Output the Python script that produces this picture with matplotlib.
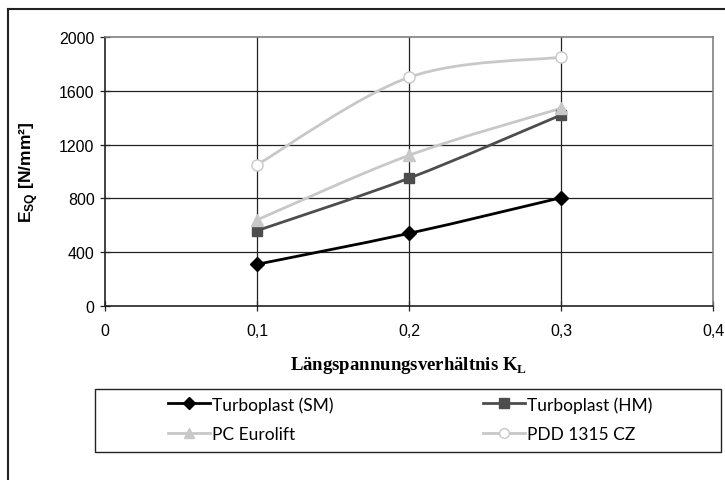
import numpy as np
import matplotlib
matplotlib.use("Agg")
import matplotlib.pyplot as plt
from matplotlib.path import Path
from matplotlib.patches import PathPatch, Rectangle
from matplotlib.lines import Line2D

plt.rcParams["font.family"] = ["Liberation Sans", "DejaVu Sans"]

# data
kl = [0.1, 0.2, 0.3]
sm = [310, 540, 805]
hm = [560, 950, 1420]
pc = [640, 1120, 1470]
pdd = [1050, 1700, 1850]

series = [
    ("Turboplast (SM)", sm, "#000000", "D", "#000000", 7),
    ("Turboplast (HM)", hm, "#4d4d4d", "s", "#4d4d4d", 7.5),
    ("PC Eurolift", pc, "#c8c8c8", "^", "#c8c8c8", 8.5),
    ("PDD 1315 CZ", pdd, "#c8c8c8", "o", "white", 8),
]

y_ticks = [0, 400, 800, 1200, 1600, 2000]
x_ticks = [0, 0.1, 0.2, 0.3, 0.4]
x_labels = ["0", "0,1", "0,2", "0,3", "0,4"]

W, H = 725, 481


# excel-style smoothed line as cubic bezier path
def smooth_path(x, y):
    p = np.column_stack([x, y]).astype(float)
    n = len(p)
    verts = [p[0]]
    codes = [Path.MOVETO]
    for i in range(n - 1):
        p0 = p[i - 1] if i > 0 else p[i]
        p3 = p[i + 2] if i + 2 < n else p[i + 1]
        c1 = p[i] + (p[i + 1] - p0) / 6.0
        c2 = p[i + 1] - (p3 - p[i]) / 6.0
        verts += [c1, c2, p[i + 1]]
        codes += [Path.CURVE4] * 3
    return Path(verts, codes)


fig = plt.figure(figsize=(W / 100, H / 100), dpi=100)
ax = fig.add_axes([105 / W, 1 - 307 / H, (713 - 105) / W, (307 - 38) / H])

ax.set_xlim(0, 0.4)
ax.set_ylim(0, 2000)

handles = []
for name, vals, col, mk, face, ms in series:
    patch = PathPatch(smooth_path(kl, vals), facecolor="none", edgecolor=col,
                      lw=2.0, zorder=3, capstyle="round")
    ax.add_patch(patch)
    ax.plot(kl, vals, linestyle="none", marker=mk, markersize=ms,
            markerfacecolor=face, markeredgecolor=col, markeredgewidth=1.0,
            zorder=4, clip_on=False)
    handles.append(Line2D([], [], color=col, lw=2.0, marker=mk, markersize=ms - 1,
                          markerfacecolor=face, markeredgecolor=col))

# grid
for v in y_ticks[1:-1]:
    ax.axhline(v, color="#222222", lw=0.9, zorder=1)
for v in x_ticks[1:-1]:
    ax.axvline(v, color="#222222", lw=0.9, zorder=1)

ax.spines["left"].set_color("#222222")
ax.spines["bottom"].set_color("#222222")
ax.spines["top"].set_color("#808080")
ax.spines["right"].set_color("#808080")
for s in ax.spines.values():
    s.set_linewidth(1.2)

ax.set_yticks(y_ticks)
ax.set_xticks(x_ticks)
ax.set_xticklabels(x_labels, fontsize=11.5)
ax.set_yticklabels([str(v) for v in y_ticks], fontsize=11.5)
ax.tick_params(axis="both", direction="inout", length=7, width=0.9,
               color="#222222", pad=4)
ax.tick_params(axis="x", pad=9)

ax.set_xlabel(r"Längspannungsverhältnis K$_\mathregular{L}$", fontfamily="Liberation Serif",
              fontweight="bold", fontsize=13.5, labelpad=11)
ax.set_ylabel(r"E$_\mathregular{SQ}$ [N/mm²]", fontweight="bold", fontsize=12.5,
              labelpad=14)

# legend, filled row by row: SM, HM / PC, PDD
order = [0, 2, 1, 3]
leg = fig.legend([handles[i] for i in order], [series[i][0] for i in order], ncol=2,
                 loc="upper left", bbox_to_anchor=(168 / W, 1 - 397 / H),
                 frameon=False, handlelength=2.4, handletextpad=0.15,
                 borderpad=0.0, borderaxespad=0.0, labelspacing=0.75,
                 columnspacing=8.6, prop={"family": "Lato", "size": 12.5})

# legend box
fig.add_artist(Rectangle((95 / W, 1 - 453 / H), (721 - 95) / W, (453 - 390) / H,
                         transform=fig.transFigure, facecolor="none",
                         edgecolor="#222222", lw=1.0))

# outer chart frame (left and top edges visible)
fig.add_artist(Line2D([7.5 / W, 7.5 / W], [0, 1 - 9.5 / H], color="#222222", lw=1.5))
fig.add_artist(Line2D([7.5 / W, 1], [1 - 9.5 / H, 1 - 9.5 / H], color="#222222", lw=1.5))

fig.savefig("out.png", dpi=100)
